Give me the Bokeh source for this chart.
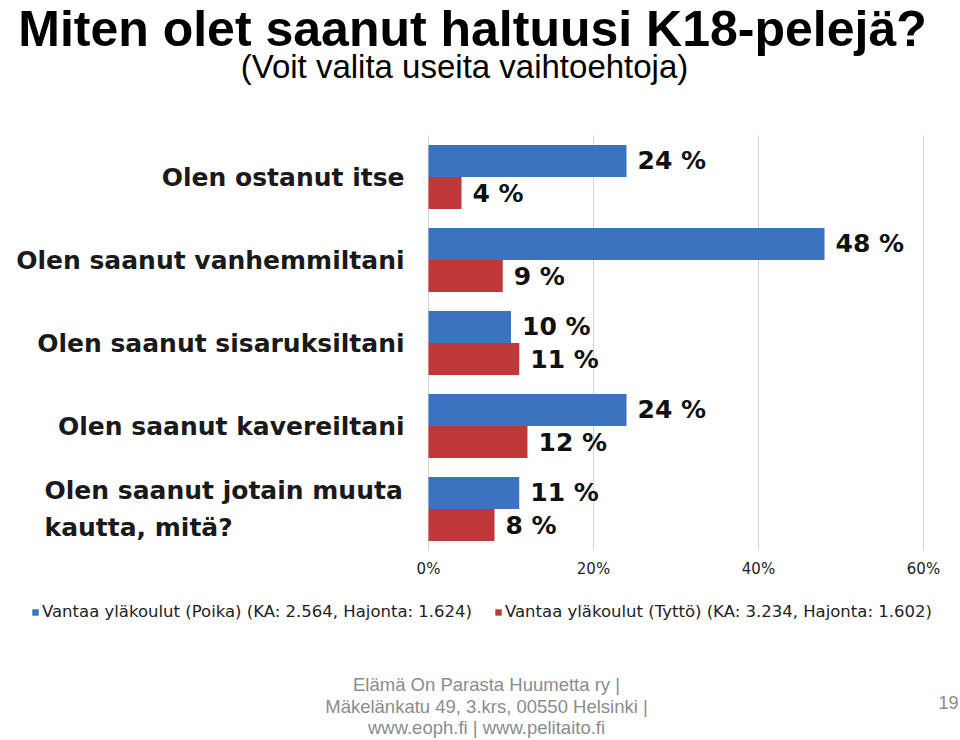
from bokeh.plotting import figure
from bokeh.models import Range1d, Label, ColumnDataSource, Legend, LegendItem
from bokeh.core.properties import value
from bokeh.embed import file_html
from bokeh.resources import INLINE

# ---------------- data ----------------
title_text = "Miten olet saanut haltuusi K18-pelejä?"
subtitle_text = "(Voit valita useita vaihtoehtoja)"
categories = [
    "Olen ostanut itse",
    "Olen saanut vanhemmiltani",
    "Olen saanut sisaruksiltani",
    "Olen saanut kavereiltani",
    "Olen saanut jotain muuta\nkautta, mitä?",
]
boys = [24, 48, 10, 24, 11]      # Vantaa yläkoulut (Poika)
girls = [4, 9, 11, 12, 8]        # Vantaa yläkoulut (Tyttö)
series_names = [
    "Vantaa yläkoulut (Poika) (KA: 2.564, Hajonta: 1.624)",
    "Vantaa yläkoulut (Tyttö) (KA: 3.234, Hajonta: 1.602)",
]
x_ticks = [0, 20, 40, 60]
x_tick_labels = ["0%", "20%", "40%", "60%"]
footer_lines = [
    "Elämä On Parasta Huumetta ry |",
    "Mäkelänkatu 49, 3.krs, 00550 Helsinki |",
    "www.eoph.fi | www.pelitaito.fi",
]
page_number = "19"

# ---------------- layout / styles ----------------
BLUE = "#3b73c0"
RED = "#c0373a"
W, H = 960, 740
PX0, PY0 = 428, 135          # page position of value 0 / top of first category
PX_PER_PCT = 8.25            # pixels per percentage point
PX_PER_CAT = 83              # pixels per category band
n = len(categories)


def dx(px):
    return (px - PX0) / PX_PER_PCT


def dy(py):
    return (py - PY0) / PX_PER_CAT


p = figure(width=W, height=H, output_backend="svg", toolbar_location=None,
           x_range=Range1d(dx(0), dx(W)), y_range=Range1d(dy(H), dy(0)),
           min_border=0)
p.outline_line_color = None
p.background_fill_color = "white"
p.border_fill_color = "white"
p.axis.visible = False
p.grid.visible = False

# gridlines (0% line included)
p.segment(x0=x_ticks, x1=x_ticks, y0=[0] * len(x_ticks), y1=[n] * len(x_ticks),
          line_color="#d4d4d4", line_width=1)
p.text(x=x_ticks, y=[dy(568)] * len(x_ticks), text=x_tick_labels,
       text_align="center", text_baseline="middle", text_font=value("DejaVu Sans"),
       text_font_size="15px", text_color="#222222")

idx = list(range(n))
off = 0.193
hgt = 0.385
src_b = ColumnDataSource(dict(y=[i + 0.5 - off for i in idx], right=boys,
                              lab=[f"{v} %" for v in boys]))
src_g = ColumnDataSource(dict(y=[i + 0.5 + off for i in idx], right=girls,
                              lab=[f"{v} %" for v in girls]))

rb = p.hbar(y="y", left=0, right="right", height=hgt, source=src_b,
            fill_color=BLUE, line_color=None)
rg = p.hbar(y="y", left=0, right="right", height=hgt, source=src_g,
            fill_color=RED, line_color=None)

for s in (src_b, src_g):
    p.text(x="right", y="y", text="lab", source=s, x_offset=11,
           text_baseline="middle", text_align="left",
           text_font=value("DejaVu Sans"), text_font_style="bold",
           text_font_size="25px", text_color="#111111")

# category labels
for i, c in enumerate(categories):
    if "\n" in c:
        p.add_layout(Label(x=dx(44), y=i + 0.5, text=c, text_align="left",
                           text_baseline="middle", text_font="DejaVu Sans",
                           text_font_style="bold", text_font_size="25px",
                           text_line_height=1.28, text_color="#1a1a1a"))
    else:
        p.add_layout(Label(x=dx(404), y=i + 0.5, text=c, text_align="right",
                           text_baseline="middle", text_font="DejaVu Sans",
                           text_font_style="bold", text_font_size="25px",
                           text_color="#1a1a1a"))

# title & subtitle
p.add_layout(Label(x=dx(472), y=dy(0), text=title_text, text_align="center",
                   text_baseline="top", text_font="Liberation Sans",
                   text_font_style="bold", text_font_size="50px", text_color="black"))
p.add_layout(Label(x=dx(464), y=dy(66), text=subtitle_text, text_align="center",
                   text_baseline="middle", text_font="Liberation Sans",
                   text_font_size="33px", text_color="black"))

# legend
legend = Legend(items=[LegendItem(label=series_names[0], renderers=[rb]),
                       LegendItem(label=series_names[1], renderers=[rg])],
                orientation="horizontal", location=(31, H - 621),
                glyph_width=8, glyph_height=8, label_standoff=3, spacing=22,
                padding=0, margin=0, border_line_color=None,
                background_fill_alpha=0, label_text_font="DejaVu Sans",
                label_text_font_size="16.5px", label_text_color="#222222")
p.add_layout(legend, "center")

# footer
for line, py in zip(footer_lines, [684, 706, 727]):
    p.add_layout(Label(x=dx(486), y=dy(py), text=line, text_align="center",
                       text_baseline="middle", text_font="Liberation Sans",
                       text_font_size="18.5px", text_color="#8c8c8c"))
p.add_layout(Label(x=dx(958), y=dy(702), text=page_number, text_align="right",
                   text_baseline="middle", text_font="Liberation Sans",
                   text_font_size="18px", text_color="#8c8c8c"))

open("out.html", "w").write(file_html(p, INLINE))
